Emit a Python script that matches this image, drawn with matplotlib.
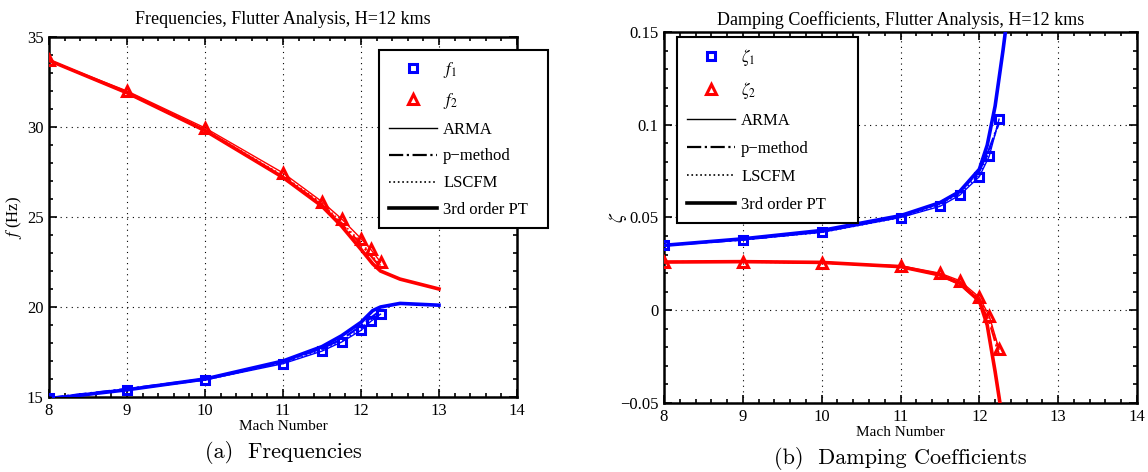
import matplotlib
matplotlib.use("Agg")
import matplotlib.pyplot as plt
from matplotlib.ticker import MultipleLocator, FuncFormatter
from matplotlib.lines import Line2D

plt.rcParams['font.family'] = ['Liberation Serif', 'DejaVu Serif']
plt.rcParams['mathtext.fontset'] = 'stix'

# Mach numbers where the identification methods were run
mach = [8, 9, 10, 11, 11.5, 11.75, 12, 12.125, 12.25]
# Mach numbers for the 3rd order perturbation theory curves
mach_pt_f = [8, 9, 10, 11, 11.5, 11.75, 12, 12.15, 12.25, 12.5, 13]
mach_pt_z = [8, 9, 10, 11, 11.5, 11.75, 12, 12.1, 12.2, 12.3, 12.36]
mach_pt_z2 = [8, 9, 10, 11, 11.5, 11.75, 12, 12.1, 12.2, 12.28]

# frequencies (Hz)
f1_arma = [14.95, 15.4, 15.95, 16.85, 17.55, 18.05, 18.7, 19.2, 19.6]
f1_pm = [14.95, 15.45, 16.0, 16.95, 17.7, 18.2, 18.95, 19.4, 19.8]
f1_lscfm = [14.95, 15.4, 15.95, 16.9, 17.6, 18.1, 18.8, 19.3, 19.7]
f2_arma = [33.7, 32.0, 29.95, 27.45, 25.85, 24.9, 23.8, 23.2, 22.5]
f2_pm = [33.7, 31.9, 29.8, 27.2, 25.7, 24.6, 23.5, 22.85, 22.2]
f2_lscfm = [33.7, 31.95, 29.85, 27.3, 25.75, 24.7, 23.6, 22.95, 22.3]
f1_pt = [14.9, 15.4, 16.0, 17.0, 17.8, 18.4, 19.15, 19.8, 20.0, 20.2, 20.1]
f2_pt = [33.7, 31.9, 29.8, 27.2, 25.6, 24.5, 23.2, 22.4, 22.0, 21.55, 21.0]

# damping coefficients
z1_arma = [0.035, 0.038, 0.042, 0.050, 0.056, 0.062, 0.072, 0.083, 0.103]
z1_pm = [0.035, 0.038, 0.0425, 0.0505, 0.058, 0.064, 0.075, 0.087, 0.101]
z1_lscfm = [0.035, 0.038, 0.042, 0.050, 0.057, 0.063, 0.073, 0.085, 0.102]
z2_arma = [0.026, 0.026, 0.0255, 0.024, 0.020, 0.016, 0.007, -0.003, -0.021]
z2_pm = [0.026, 0.0262, 0.0258, 0.0235, 0.019, 0.014, 0.005, -0.006, -0.024]
z2_lscfm = [0.026, 0.026, 0.0255, 0.0238, 0.0195, 0.015, 0.006, -0.004, -0.022]
z1_pt = [0.035, 0.0385, 0.043, 0.051, 0.058, 0.064, 0.076, 0.089, 0.110, 0.140, 0.160]
z2_pt = [0.026, 0.0262, 0.0258, 0.0235, 0.019, 0.0145, 0.005, -0.008, -0.033, -0.055]

BLUE = '#0000ff'
RED = '#ff0000'
W, H = 1148, 472

fig = plt.figure(figsize=(W / 100, H / 100), dpi=100)
ax1 = fig.add_axes([49 / W, 1 - 397 / H, 468 / W, 360 / H])
ax2 = fig.add_axes([664 / W, 1 - 403 / H, 473 / W, 371 / H])


def draw_mode(ax, x, arma, pm, lscfm, xpt, pt, color, marker, ms):
    ax.plot(xpt, pt, '-', color=color, lw=2.6, zorder=3)
    ax.plot(x, pm, '-.', color=color, lw=1.6, zorder=3)
    ax.plot(x, lscfm, ':', color=color, lw=1.2, zorder=3)
    ax.plot(x, arma, '-', color=color, lw=1.0, marker=marker, ms=ms,
            mfc='none', mec=color, mew=2.2, zorder=4)


def style_axes(ax):
    ax.set_xlim(8, 14)
    ax.xaxis.set_major_locator(MultipleLocator(1))
    ax.xaxis.set_minor_locator(MultipleLocator(0.2))
    ax.tick_params(which='both', direction='in', top=True, right=True,
                   labelsize=12, width=1.2, pad=4)
    ax.tick_params(which='major', length=6)
    ax.tick_params(which='minor', length=3)
    ax.grid(True, which='major', linestyle=(0, (1, 4)), color='k', lw=0.8)
    for s in ax.spines.values():
        s.set_linewidth(1.8)
    ax.set_xlabel('Mach Number', fontsize=11, labelpad=1)


def legend_handles(lab1, lab2):
    return [
        Line2D([], [], ls='none', marker='s', color=BLUE, mfc='none', mew=2.2, ms=6, label=lab1),
        Line2D([], [], ls='none', marker='^', color=RED, mfc='none', mew=2.2, ms=7, label=lab2),
        Line2D([], [], ls='-', color='k', lw=1.0, label='ARMA'),
        Line2D([], [], ls='-.', color='k', lw=1.6, label='p\u2212method'),
        Line2D([], [], ls=':', color='k', lw=1.2, label='LSCFM'),
        Line2D([], [], ls='-', color='k', lw=2.6, label='3rd order PT'),
    ]


def add_legend(ax, handles, x0, y_top, width, spacing):
    leg = ax.legend(handles=handles, loc='upper left', mode='expand',
                    bbox_to_anchor=(x0 / W, 1 - y_top / H - 0.3, width / W, 0.3),
                    bbox_transform=fig.transFigure, borderaxespad=0,
                    fontsize=12, handlelength=2.9, handletextpad=0.35,
                    fancybox=False, edgecolor='k', framealpha=1,
                    borderpad=0.6, labelspacing=spacing)
    leg.get_frame().set_linewidth(1.5)
    leg.set_zorder(10)
    return leg


# (a) frequencies
draw_mode(ax1, mach, f1_arma, f1_pm, f1_lscfm, mach_pt_f, f1_pt, BLUE, 's', 6)
draw_mode(ax1, mach, f2_arma, f2_pm, f2_lscfm, mach_pt_f, f2_pt, RED, '^', 7)
style_axes(ax1)
ax1.set_ylim(15, 35)
ax1.yaxis.set_major_locator(MultipleLocator(5))
ax1.yaxis.set_minor_locator(MultipleLocator(1))
ax1.set_ylabel('$f$ (Hz)', fontsize=12)
ax1.yaxis.set_label_coords(-25 / 468, 0.5)
ax1.set_title('Frequencies, Flutter Analysis, H=12 kms', fontsize=13, pad=9)
add_legend(ax1, legend_handles('$f_1$', '$f_2$'), 379, 50, 169, 0.65)

# (b) damping coefficients
draw_mode(ax2, mach, z1_arma, z1_pm, z1_lscfm, mach_pt_z, z1_pt, BLUE, 's', 6)
draw_mode(ax2, mach, z2_arma, z2_pm, z2_lscfm, mach_pt_z2, z2_pt, RED, '^', 7)
style_axes(ax2)
ax2.set_ylim(-0.05, 0.15)
ax2.yaxis.set_major_locator(MultipleLocator(0.05))
ax2.yaxis.set_minor_locator(MultipleLocator(0.01))
ax2.yaxis.set_major_formatter(FuncFormatter(lambda v, p: ('%g' % round(v, 4)).replace('-', '\u2212')))
ax2.set_ylabel(r'$\zeta$', fontsize=14)
ax2.yaxis.set_label_coords(-35 / 473, 0.5)
ax2.set_title('Damping Coefficients, Flutter Analysis, H=12 kms', fontsize=13, pad=5)
add_legend(ax2, legend_handles(r'$\zeta_1$', r'$\zeta_2$'), 677, 37, 181, 0.72)

fig.text(283 / W, 1 - 453 / H, '(a)  Frequencies', ha='center', va='center',
         fontsize=16, family='cmr10')
fig.text(900 / W, 1 - 458 / H, '(b)  Damping Coefficients', ha='center', va='center',
         fontsize=16, family='cmr10')

fig.savefig('out.png', dpi=100)
